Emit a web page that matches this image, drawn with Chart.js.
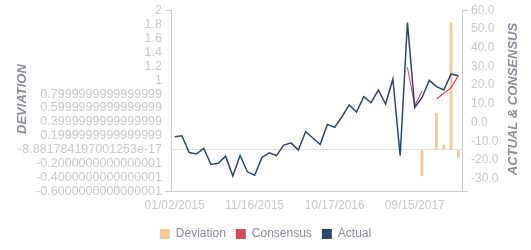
<!DOCTYPE html>
<html>
<head>
<meta charset="utf-8">
<script src="https://cdn.jsdelivr.net/npm/chart.js@4.4.1/dist/chart.umd.min.js"></script>
<style>
  html, body { margin: 0; padding: 0; background: #fff; }
  #wrap { width: 531px; height: 250px; position: relative; }
</style>
</head>
<body>
<div id="wrap"><canvas id="chart"></canvas></div>
<script>
// release dates (category axis)
const dates = [
  '01/02/2015', '01/30/2015', '02/27/2015', '03/27/2015', '04/24/2015', '05/22/2015',
  '06/19/2015', '07/17/2015', '08/14/2015', '09/18/2015', '10/16/2015', '11/16/2015',
  '12/15/2015', '01/15/2016', '02/16/2016', '03/15/2016', '04/15/2016', '05/16/2016',
  '06/15/2016', '07/15/2016', '08/15/2016', '09/15/2016', '10/17/2016', '11/15/2016',
  '12/15/2016', '01/17/2017', '02/15/2017', '03/15/2017', '04/17/2017', '05/15/2017',
  '06/15/2017', '07/17/2017', '08/15/2017', '09/15/2017', '10/16/2017', '11/15/2017',
  '12/15/2017', '01/16/2018', '02/15/2018', '03/15/2018'
];

const actualValues = [
  -7.6, -7.1, -16.1, -16.8, -13.9, -22.5, -21.8, -18.0, -28.7, -17.7,
  -26.4, -28.2, -18.7, -16.2, -17.7, -12.1, -10.9, -14.8, -4.9, -8.3,
  -11.8, -1.0, -2.6, 3.1, 9.4, 5.6, 13.8, 10.6, 17.4, 9.9,
  23.3, -17.8, 53.6, 8.1, 13.3, 22.6, 19.2, 17.4, 26.0, 25.1
];

const consensusValues = [
  null, null, null, null, null, null, null, null, null, null,
  null, null, null, null, null, null, null, null, null, null,
  null, null, null, null, null, null, null, null, null, null,
  null, null, 29.6, 9.0, 16.9, null, 12.6, 15.7, 18.7, 25.1
];

const deviationValues = [
  null, null, null, null, null, null, null, null, null, null,
  null, null, null, null, null, null, null, null, null, null,
  null, null, null, null, null, null, null, null, null, null,
  null, null, null, null, -0.38, null, 0.53, 0.07, 1.83, -0.11
];

// left axis ticks, bottom to top, with the labels exactly as printed
const leftTickValues = [-0.6, -0.4, -0.2, 0, 0.2, 0.4, 0.6, 0.8, 1, 1.2, 1.4, 1.6, 1.8, 2];
const leftTickLabels = [
  '-0.6000000000000001', '-0.4000000000000001', '-0.2000000000000001',
  '-8.881784197001253e-17', '0.1999999999999999', '0.3999999999999999',
  '0.5999999999999999', '0.7999999999999999', '1', '1.2', '1.4', '1.6', '1.8', '2'
];
const rightTickValues = [-30, -20, -10, 0, 10, 20, 30, 40, 50, 60];
const RIGHT_MIN = -37;

const FONT = 'Arial, "Liberation Sans", sans-serif';
const TICK_COLOR = '#c8c8c8';
const AXIS_COLOR = '#cccccc';
const TITLE_COLOR = '#8b8b9b';

// rotated axis titles (both read bottom to top)
const axisTitles = {
  id: 'axisTitles',
  afterDraw(chart) {
    const ctx = chart.ctx;
    const area = chart.chartArea;
    const cy = (area.top + area.bottom) / 2 - 2;
    ctx.save();
    ctx.font = 'italic bold 13px ' + FONT;
    ctx.fillStyle = TITLE_COLOR;
    ctx.textAlign = 'center';
    ctx.textBaseline = 'middle';
    [['DEVIATION', 22], ['ACTUAL & CONSENSUS', chart.width - 18]].forEach(([txt, x]) => {
      ctx.save();
      ctx.translate(x, cy);
      ctx.rotate(-Math.PI / 2);
      ctx.fillText(txt, 0, 0);
      ctx.restore();
    });
    ctx.restore();
  }
};

function endTicks(ctx) {
  const n = ctx.scale.ticks.length;
  return (ctx.index === 0 || ctx.index === n - 1) ? AXIS_COLOR : 'transparent';
}

const chart = new Chart(document.getElementById('chart'), {
  type: 'bar',
  data: {
    labels: dates,
    datasets: [
      {
        label: 'Deviation',
        data: deviationValues,
        yAxisID: 'yDev',
        backgroundColor: '#f6c99b',
        borderWidth: 0,
        barPercentage: 0.45,
        categoryPercentage: 0.9,
        order: 2
      },
      {
        type: 'line',
        label: 'Consensus',
        data: consensusValues,
        yAxisID: 'yVal',
        borderColor: '#d9475a',
        backgroundColor: '#d9475a',
        borderWidth: 1.1,
        pointRadius: 0,
        tension: 0,
        spanGaps: false,
        order: 1
      },
      {
        type: 'line',
        label: 'Actual',
        data: actualValues,
        yAxisID: 'yVal',
        borderColor: '#2c4670',
        backgroundColor: '#2c4670',
        borderWidth: 1.5,
        pointRadius: 0,
        tension: 0,
        order: 0
      }
    ]
  },
  options: {
    responsive: true,
    maintainAspectRatio: false,
    animation: false,
    layout: { padding: { left: 0, right: 0, top: 2, bottom: 0 } },
    plugins: {
      legend: {
        position: 'bottom',
        labels: {
          boxWidth: 10,
          boxHeight: 10,
          padding: 10,
          color: TITLE_COLOR,
          font: { family: FONT, size: 12 },
          sort: (a, b) => a.datasetIndex - b.datasetIndex,
          generateLabels(c) {
            return Chart.defaults.plugins.legend.labels.generateLabels(c)
              .map(l => Object.assign(l, { lineWidth: 0 }));
          }
        }
      },
      tooltip: { enabled: false }
    },
    scales: {
      x: {
        grid: { display: false, drawTicks: false },
        border: { display: true, color: AXIS_COLOR },
        afterFit(scale) { scale.height -= 2; },
        ticks: {
          autoSkip: false,
          maxRotation: 0,
          padding: 7,
          color: TICK_COLOR,
          font: { family: FONT, size: 12 },
          callback(val, i) { return i % 11 === 0 ? dates[i] : ''; }
        }
      },
      yDev: {
        position: 'left',
        min: -0.6,
        max: 2,
        afterBuildTicks(scale) {
          scale.ticks = leftTickValues.map(v => ({ value: v }));
        },
        // the long labels plus the title need more room than the default cap allows
        afterFit(scale) { scale.width = 171; },
        grid: {
          color: ctx => (ctx.tick && ctx.tick.value === 0) ? '#dddddd' : 'transparent',
          tickColor: endTicks,
          tickLength: 6
        },
        border: { display: true, color: AXIS_COLOR },
        ticks: {
          autoSkip: false,
          padding: 3,
          color: TICK_COLOR,
          font: { family: FONT, size: 12.5 },
          callback(val, i) { return leftTickLabels[i]; }
        }
      },
      yVal: {
        position: 'right',
        min: RIGHT_MIN,
        max: 60,
        afterBuildTicks(scale) {
          scale.ticks = [{ value: RIGHT_MIN }].concat(rightTickValues.map(v => ({ value: v })));
        },
        afterFit(scale) { scale.width = 69; },
        grid: {
          drawOnChartArea: false,
          tickColor: endTicks,
          tickLength: 6
        },
        border: { display: true, color: AXIS_COLOR },
        ticks: {
          autoSkip: false,
          padding: 3,
          color: TICK_COLOR,
          font: { family: FONT, size: 12 },
          callback(val) { return rightTickValues.includes(val) ? val.toFixed(1) : ''; }
        }
      }
    }
  },
  plugins: [axisTitles]
});
</script>
</body>
</html>
